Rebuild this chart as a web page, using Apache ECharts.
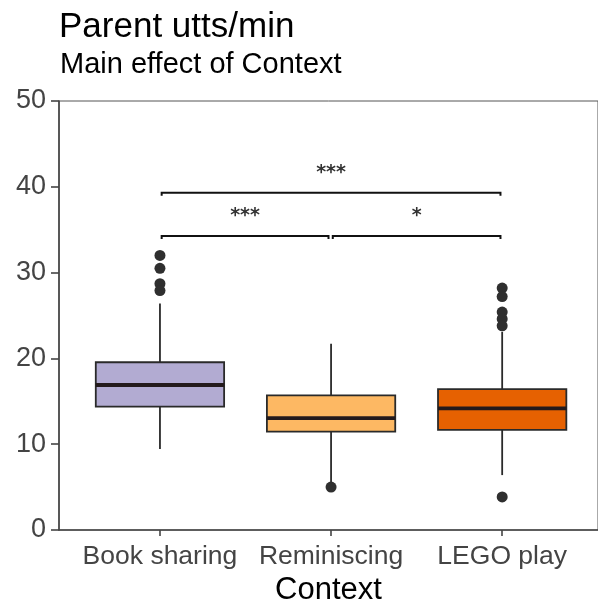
<!DOCTYPE html>
<html>
<head>
<meta charset="utf-8">
<script src="https://cdn.jsdelivr.net/npm/echarts@6/dist/echarts.min.js"></script>
<style>
  html, body { margin: 0; padding: 0; background: #fff; }
  #chart { width: 598px; height: 600px; }
</style>
</head>
<body>
<div id="chart"></div>
<script>
// Parent utterances per minute by interaction context
const categories = ['Book sharing', 'Reminiscing', 'LEGO play'];
const boxColors = ['#b2abd2', '#fdb863', '#e66101'];

// Five-number summaries (whisker ends, quartiles, median)
const whiskerLow  = [9.45, 5.6, 6.4];
const quartile1   = [14.37, 11.46, 11.66];
const medians     = [16.9, 13.05, 14.18];
const quartile3   = [19.55, 15.7, 16.43];
const whiskerHigh = [26.4, 21.7, 23.1];

// Points beyond the whiskers
const bookOutliers = [32.0, 30.5, 28.7, 27.9];
const reminiscingOutliers = [5.0];
const legoOutliers = [28.2, 27.2, 25.4, 24.6, 23.8, 3.85];

// Pairwise comparisons: [from, to, height, stars]
const comparisons = [
  [1.01, 2.99, 39.3, '***'],
  [1.01, 1.985, 34.27, '***'],
  [2.01, 2.99, 34.27, '*']
];

const yTicks = [0, 10, 20, 30, 40, 50];

const boxData = categories.map((c, i) => [
  i + 1, whiskerLow[i], quartile1[i], medians[i], quartile3[i], whiskerHigh[i], i
]);

const outlierData = [];
[bookOutliers, reminiscingOutliers, legoOutliers].forEach((arr, i) => {
  arr.forEach(v => outlierData.push([i + 1, v]));
});

const chart = echarts.init(document.getElementById('chart'));

function renderBox(params, api) {
  const x = api.value(0);
  const lo = api.coord([x, api.value(1)]);
  const q1 = api.coord([x, api.value(2)]);
  const md = api.coord([x, api.value(3)]);
  const q3 = api.coord([x, api.value(4)]);
  const hi = api.coord([x, api.value(5)]);
  const idx = api.value(6);
  const halfW = api.size([0.75, 0])[0] / 2;
  const stroke = '#2a2a2a';
  return {
    type: 'group',
    children: [
      { type: 'line', shape: { x1: hi[0], y1: hi[1], x2: q3[0], y2: q3[1] },
        style: { stroke: stroke, lineWidth: 1.8 } },
      { type: 'line', shape: { x1: q1[0], y1: q1[1], x2: lo[0], y2: lo[1] },
        style: { stroke: stroke, lineWidth: 1.8 } },
      { type: 'rect', shape: { x: q3[0] - halfW, y: q3[1], width: halfW * 2, height: q1[1] - q3[1] },
        style: { fill: boxColors[idx], stroke: stroke, lineWidth: 1.8 } },
      { type: 'line', shape: { x1: md[0] - halfW, y1: md[1], x2: md[0] + halfW, y2: md[1] },
        style: { stroke: '#231a1c', lineWidth: 3.8 } }
    ]
  };
}

function renderBracket(params, api) {
  const x1 = api.value(0), x2 = api.value(1), y = api.value(2);
  const tip = 0.35;
  const a = api.coord([x1, y - tip]);
  const b = api.coord([x1, y]);
  const c = api.coord([x2, y]);
  const d = api.coord([x2, y - tip]);
  const lab = api.coord([(x1 + x2) / 2, y + 2.65]);
  return {
    type: 'group',
    children: [
      { type: 'polyline', shape: { points: [a, b, c, d] },
        style: { stroke: '#111', lineWidth: 2, fill: null } },
      { type: 'text', x: lab[0], y: lab[1] + 3,
        style: { text: comparisons[params.dataIndex][3], fill: '#333',
                 font: 'bold 19px "DejaVu Sans", sans-serif',
                 align: 'center', verticalAlign: 'middle' } }
    ]
  };
}

chart.setOption({
  animation: false,
  backgroundColor: '#fff',
  title: [
    { text: 'Parent utts/min', left: 54, top: 5,
      textStyle: { fontFamily: '"Liberation Sans", Arial, sans-serif', fontSize: 35, fontWeight: 'normal', color: '#000' } },
    { text: 'Main effect of Context', left: 55, top: 45,
      textStyle: { fontFamily: '"Liberation Sans", Arial, sans-serif', fontSize: 29, fontWeight: 'normal', color: '#000' } }
  ],
  grid: {
    left: 59, top: 101, right: 0, bottom: 70,
    outerBoundsMode: 'none', containLabel: false,
    show: true, borderColor: '#555', borderWidth: 1, backgroundColor: '#fff'
  },
  xAxis: {
    type: 'value', min: 0.41, max: 3.56,
    splitLine: { show: false },
    axisLine: { show: true, lineStyle: { color: '#444', width: 1.6 } },
    axisTick: { show: true, length: 6, customValues: [1, 2, 3], lineStyle: { color: '#444', width: 1.6 } },
    axisLabel: {
      customValues: [1, 2, 3],
      formatter: v => categories[Math.round(v) - 1] || '',
      fontFamily: '"Liberation Sans", Arial, sans-serif', fontSize: 26.5, color: '#444', margin: 13
    },
    name: 'Context', nameLocation: 'middle', nameGap: 29,
    nameTextStyle: { fontFamily: '"Liberation Sans", Arial, sans-serif', fontSize: 31, color: '#000' }
  },
  yAxis: {
    type: 'value', min: 0, max: 50, interval: 10,
    splitLine: { show: false },
    axisLine: { show: true, lineStyle: { color: '#444', width: 1.6 } },
    axisTick: { show: true, length: 8, lineStyle: { color: '#444', width: 1.6 } },
    axisLabel: {
      customValues: yTicks,
      fontFamily: '"Liberation Sans", Arial, sans-serif', fontSize: 27, color: '#444', margin: 13
    }
  },
  series: [
    { type: 'custom', name: 'boxes', renderItem: renderBox, data: boxData,
      encode: { x: 0, y: [1, 2, 3, 4, 5] }, z: 2 },
    { type: 'scatter', name: 'outliers', data: outlierData, symbolSize: 11,
      itemStyle: { color: '#2f2f2f', opacity: 1 }, z: 3 },
    { type: 'custom', name: 'comparisons', renderItem: renderBracket, data: comparisons.map(c => [c[0], c[1], c[2]]),
      encode: { x: [0, 1], y: 2 }, z: 4 }
  ]
});
</script>
</body>
</html>
